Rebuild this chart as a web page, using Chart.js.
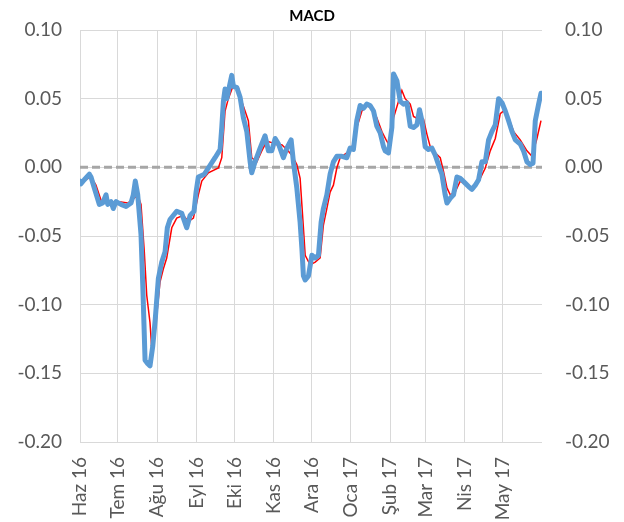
<!DOCTYPE html>
<html>
<head>
<meta charset="utf-8">
<script src="https://cdn.jsdelivr.net/npm/chart.js@4.4.1/dist/chart.umd.min.js"></script>
<style>
  body { margin: 0; background: #fff; }
  canvas { display: block; }
</style>
</head>
<body>
<canvas id="macdChart" width="624" height="522"></canvas>
<script>
// Month starts, counted in days from 1 Jun 2016
const monthStarts = [0, 30, 61, 92, 122, 153, 183, 214, 245, 273, 304, 334];
const monthLabels = ['Haz 16', 'Tem 16', 'Ağu 16', 'Eyl 16', 'Eki 16', 'Kas 16',
                     'Ara 16', 'Oca 17', 'Şub 17', 'Mar 17', 'Nis 17', 'May 17'];
const yTicks = [0.10, 0.05, 0.00, -0.05, -0.10, -0.15, -0.20];

// MACD line (blue)
const macdDays = [0, 0.8, 3.4, 7.4, 8.7, 11.3, 15.3, 17.9, 20.6, 21.9, 24.5, 26.3, 28.5, 32.4, 36.4, 40.3,
  42.1, 43.7, 45.6, 48.2, 49.6, 50.8, 51.4, 53.5, 55.3, 57.5, 59.5, 61.9, 64.6, 67.2, 69, 71.1,
  76.4, 80.4, 84.3, 87, 90.1, 91.7, 93.5, 98.3, 101.4, 106.7, 110.7, 112, 113.3, 114.6, 116, 117.8,
  119.9, 121.2, 123.9, 126.5, 129.1, 131.8, 134.4, 135.7, 138.3, 142.3, 146.2, 148.9, 151.5, 154.2, 156.8, 160.7,
  163.4, 166.8, 168.6, 171.3, 173.9, 175.3, 176.5, 177.9, 180.5, 183.2, 185.8, 188.4, 190.5, 192.3, 195, 197.6,
  200.2, 202.9, 206.9, 210.8, 213.4, 216, 218.7, 221.3, 224, 226.6, 229.2, 231.9, 234.5, 237.2, 239.8, 241.1,
  243.7, 246.4, 247.7, 250.4, 251.6, 253, 255.6, 258.3, 260.9, 263.5, 266.2, 268.2, 270.1, 272.7, 275.3, 278,
  280.6, 283.2, 285.9, 288.5, 289.9, 292.5, 295.1, 297.8, 300.4, 304.3, 307, 309.6, 312.3, 314.9, 317.5, 320.2,
  322.8, 325.4, 328.1, 330.7, 333.4, 336, 338.6, 341.3, 343.9, 347.8, 350.4, 353.1, 355.7, 357.9, 359.7, 362.3, 364.2];
const macdValues = [-0.010, -0.012, -0.009, -0.005, -0.007, -0.015, -0.027, -0.026, -0.020, -0.027, -0.025, -0.030, -0.025, -0.027, -0.0285, -0.026,
  -0.020, -0.010, -0.020, -0.049, -0.086, -0.122, -0.1405, -0.143, -0.1445, -0.130, -0.110, -0.081, -0.069, -0.0615, -0.044, -0.038,
  -0.032, -0.0335, -0.044, -0.035, -0.032, -0.018, -0.007, -0.005, -0.0005, 0.007, 0.013, 0.029, 0.048, 0.057, 0.050, 0.058,
  0.067, 0.059, 0.058, 0.051, 0.036, 0.026, 0.004, -0.004, 0.004, 0.014, 0.023, 0.012, 0.012, 0.021, 0.017, 0.007,
  0.014, 0.020, 0.004, -0.015, -0.040, -0.059, -0.079, -0.082, -0.079, -0.064, -0.066, -0.064, -0.040, -0.030, -0.020, -0.005,
  0.004, 0.008, 0.008, 0.007, 0.014, 0.013, 0.034, 0.045, 0.043, 0.046, 0.045, 0.041, 0.030, 0.025, 0.015, 0.012,
  0.0105, 0.029, 0.068, 0.063, 0.056, 0.048, 0.046, 0.047, 0.030, 0.029, 0.031, 0.042, 0.034, 0.015, 0.013, 0.014,
  0.009, 0.002, -0.005, -0.020, -0.026, -0.0225, -0.020, -0.007, -0.008, -0.0115, -0.014, -0.016, -0.013, -0.009, 0.004, 0.004,
  0.020, 0.026, 0.031, 0.050, 0.047, 0.041, 0.034, 0.026, 0.020, 0.017, 0.012, 0.004, 0.002, 0.003, 0.034, 0.046, 0.054];

// Signal line (red)
const signalDays = [0, 4.7, 8.7, 12.6, 16.6, 23.2, 31.1, 37.7, 42.9, 45.6, 48.2, 50.8, 52.7, 55.3, 56.7, 59.3,
  63.2, 65.8, 68.5, 72.5, 76.4, 81.7, 85.6, 89.6, 93.5, 96.2, 101.4, 109.3, 112, 114.6, 117.2, 120.4,
  123.9, 125.1, 127.8, 130.4, 133, 135.7, 139.7, 143.6, 147.6, 151.5, 155.5, 159.4, 163.4, 167.3, 171.3, 173.9,
  176.5, 177.9, 181.8, 185.8, 189.7, 192.3, 195, 197.6, 200.2, 202.9, 205.5, 210.8, 214.8, 218.7, 222.7, 226.6,
  230.6, 234.5, 238.5, 242.4, 245.1, 247.7, 251.6, 254.3, 256.9, 260.9, 263.5, 267.4, 271.4, 274.1, 276.7, 280.6,
  284.6, 287.2, 289.9, 292.5, 296.4, 300.4, 305.7, 310.9, 316.2, 320.2, 324.1, 328.1, 332, 334.6, 338.6, 342.6,
  347.8, 353.1, 357.1, 361, 364.2];
const signalValues = [-0.012, -0.009, -0.007, -0.013, -0.024, -0.025, -0.025, -0.026, -0.0225, -0.020, -0.027, -0.0615, -0.093, -0.113, -0.132, -0.120,
  -0.0835, -0.074, -0.066, -0.044, -0.037, -0.035, -0.0395, -0.037, -0.020, -0.010, -0.004, -0.0005, 0.007, 0.041, 0.050, 0.058,
  0.059, 0.058, 0.048, 0.041, 0.034, 0.007, 0.004, 0.012, 0.019, 0.018, 0.0165, 0.0165, 0.013, 0.009, 0.002, -0.008,
  -0.044, -0.064, -0.071, -0.069, -0.066, -0.042, -0.030, -0.018, -0.013, -0.0005, 0.007, 0.0105, 0.014, 0.029, 0.041, 0.045,
  0.043, 0.036, 0.026, 0.019, 0.015, 0.036, 0.048, 0.056, 0.050, 0.046, 0.037, 0.035, 0.035, 0.024, 0.015, 0.0105,
  0.007, -0.003, -0.015, -0.020, -0.018, -0.010, -0.013, -0.015, -0.008, -0.0005, 0.012, 0.021, 0.039, 0.041, 0.036, 0.026,
  0.020, 0.012, 0.008, 0.021, 0.034];

const dayMin = 0;
const dayMax = 365;

const toPoints = (xs, ys) => xs.map((x, i) => ({ x: x, y: ys[i] }));

Chart.defaults.font.family = 'Lato';
Chart.defaults.color = '#595959';

const tickFont = { family: 'Lato', size: 19 };

const yTickSetup = function(scale) {
    scale.ticks = yTicks.map(v => ({ value: v }));
};

// fixed axis width, and no extra top/bottom room asked by the labels
const fixWidth = w => function(scale) {
    scale.width = w;
    scale.paddingTop = 0;
    scale.paddingBottom = 0;
};

new Chart(document.getElementById('macdChart'), {
    type: 'line',
    data: {
        datasets: [
            {
                // zero reference line
                data: [{ x: dayMin, y: 0 }, { x: dayMax, y: 0 }],
                borderColor: '#a6a6a6',
                borderWidth: 3,
                borderDash: [8, 4],
                pointRadius: 0,
                order: 3
            },
            {
                label: 'Signal',
                data: toPoints(signalDays, signalValues),
                borderColor: '#ff0000',
                borderWidth: 1.5,
                pointRadius: 0,
                order: 2
            },
            {
                label: 'MACD',
                data: toPoints(macdDays, macdValues),
                borderColor: '#5b9bd5',
                borderWidth: 5,
                borderJoinStyle: 'round',
                borderCapStyle: 'round',
                pointRadius: 0,
                order: 1
            }
        ]
    },
    options: {
        responsive: false,
        animation: false,
        layout: { padding: 0 },
        plugins: {
            legend: { display: false },
            tooltip: { enabled: false },
            title: {
                display: true,
                text: 'MACD',
                color: '#000',
                font: { family: 'Lato', size: 15, weight: 'bold', lineHeight: 1.2 },
                padding: { top: 7, bottom: 5 }
            }
        },
        scales: {
            x: {
                type: 'linear',
                min: dayMin,
                max: dayMax,
                afterBuildTicks: function(scale) {
                    scale.ticks = monthStarts.map(v => ({ value: v }));
                },
                afterFit: function(scale) { scale.height = 80; },
                ticks: {
                    autoSkip: false,
                    minRotation: 90,
                    maxRotation: 90,
                    padding: 15,
                    font: tickFont,
                    callback: function(value, index) { return monthLabels[index]; }
                },
                grid: { color: '#d9d9d9', lineWidth: 1, drawTicks: false },
                border: { display: false }
            },
            y: {
                position: 'left',
                min: -0.20,
                max: 0.10,
                afterBuildTicks: yTickSetup,
                afterFit: fixWidth(80),
                ticks: {
                    padding: 18,
                    font: tickFont,
                    callback: v => v.toFixed(2)
                },
                grid: { color: '#d9d9d9', lineWidth: 1, drawTicks: false },
                border: { display: false }
            },
            y2: {
                position: 'right',
                min: -0.20,
                max: 0.10,
                afterBuildTicks: yTickSetup,
                afterFit: fixWidth(82),
                ticks: {
                    padding: 23,
                    font: tickFont,
                    callback: v => v.toFixed(2)
                },
                grid: { display: false, drawTicks: false },
                border: { display: false }
            }
        }
    }
});
</script>
</body>
</html>
